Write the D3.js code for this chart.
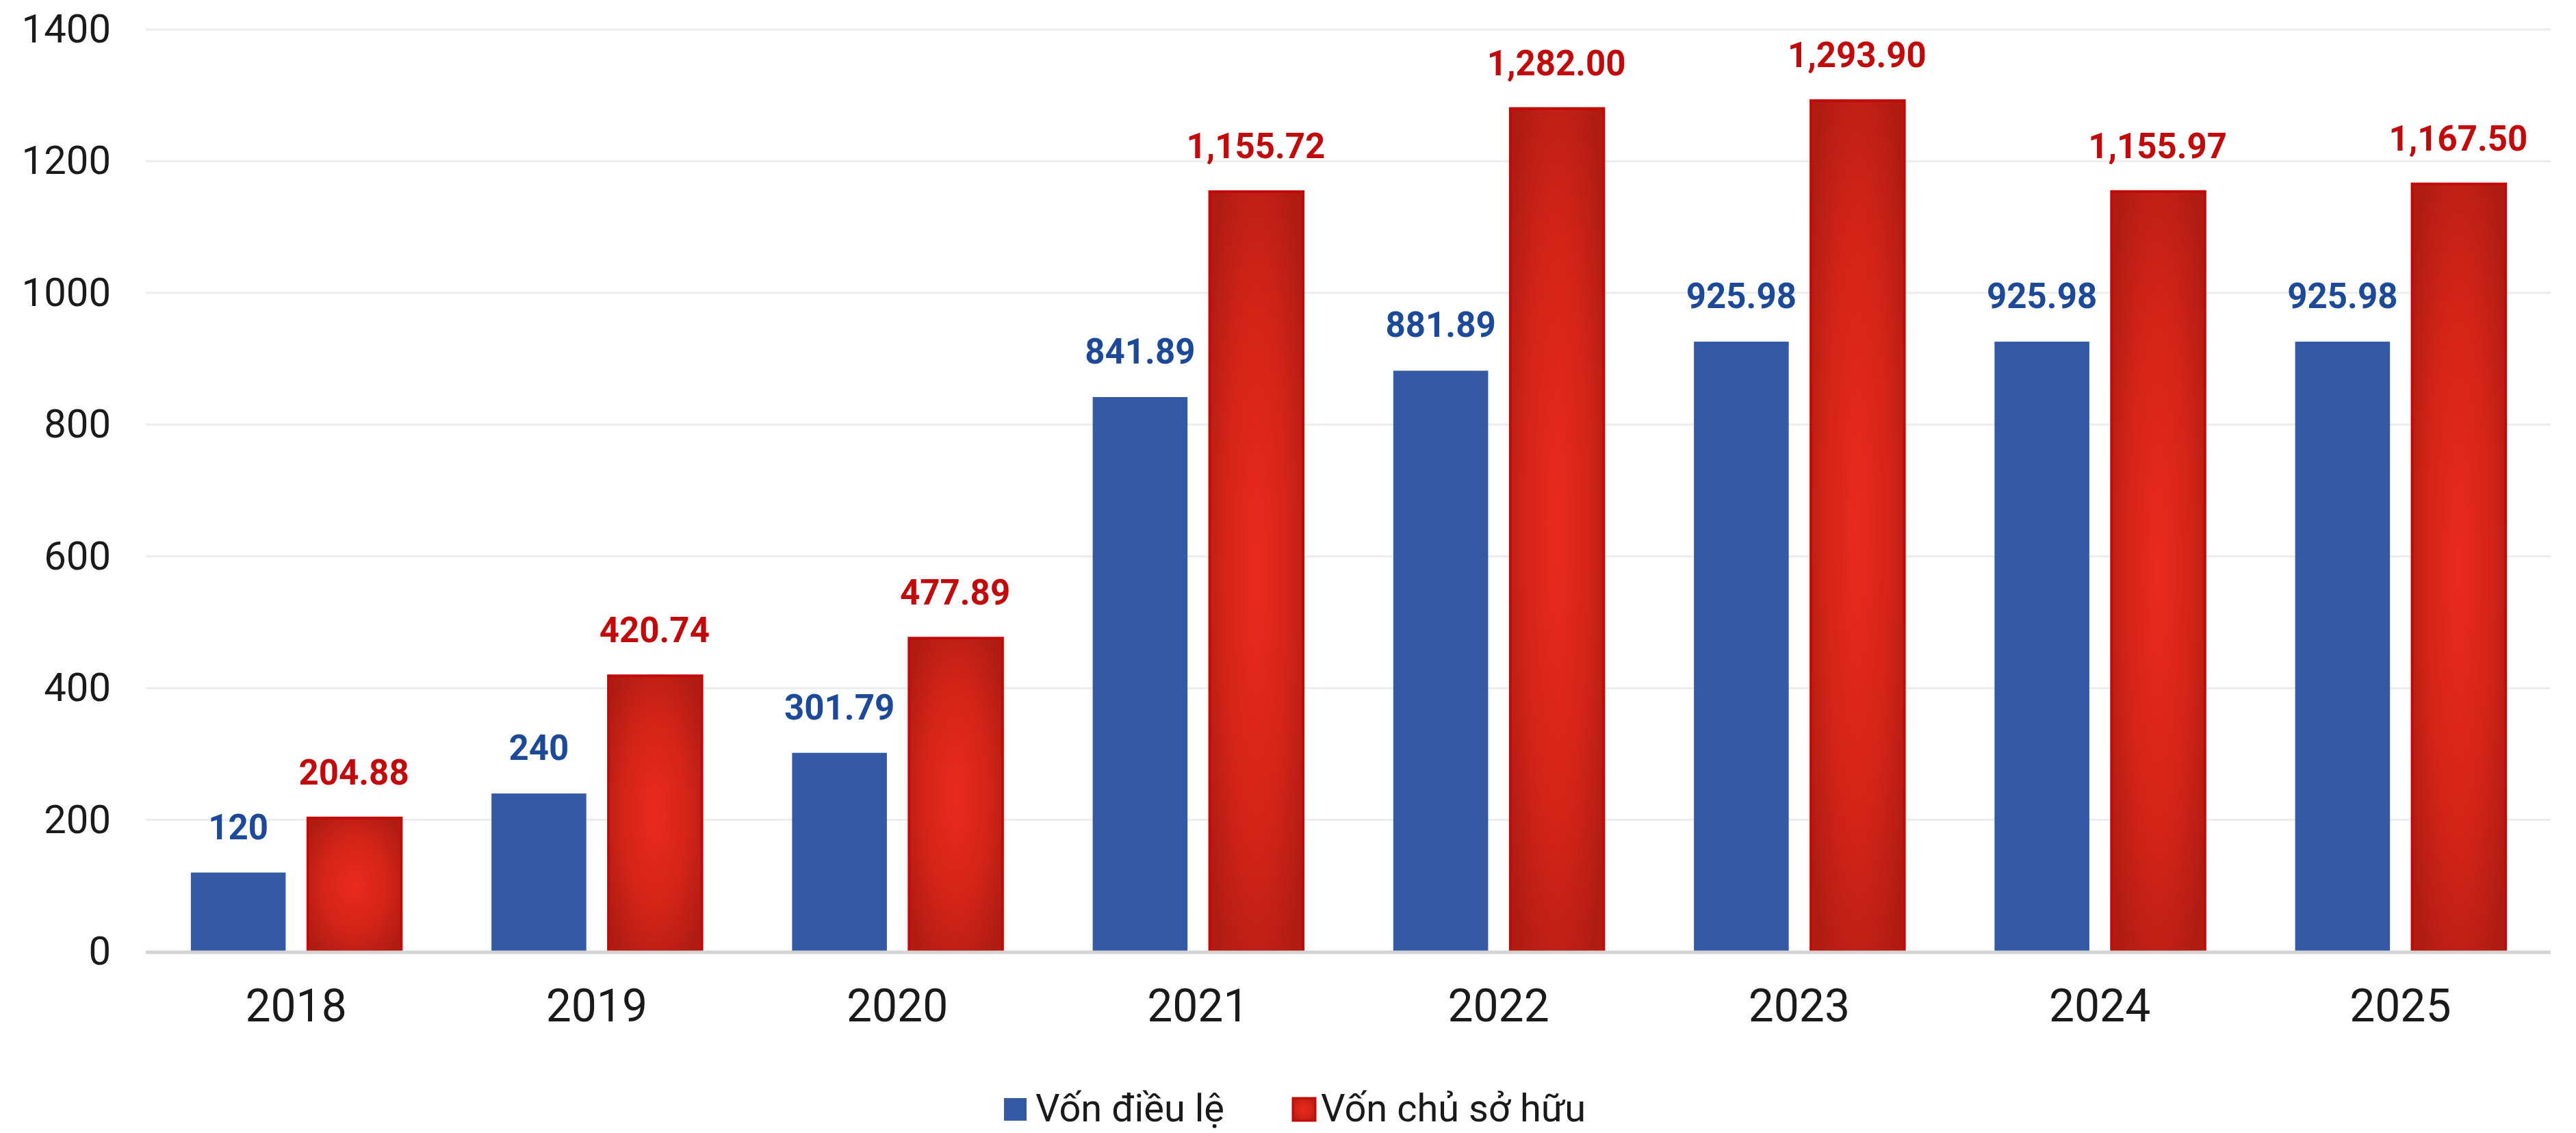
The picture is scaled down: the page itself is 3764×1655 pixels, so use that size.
<!DOCTYPE html>
<html>
<head>
<meta charset="utf-8">
<script src="https://cdn.jsdelivr.net/npm/d3@7"></script>
<style>
  body { margin: 0; background: #fff; }
  text { font-family: Roboto, "Noto Sans", sans-serif; }
</style>
</head>
<body>
<svg id="chart"></svg>
<script>
const years = ["2018", "2019", "2020", "2021", "2022", "2023", "2024", "2025"];
const seriesNames = ["Vốn điều lệ", "Vốn chủ sở hữu"];
const vonDieuLe = [120, 240, 301.79, 841.89, 881.89, 925.98, 925.98, 925.98];
const vonChuSoHuu = [204.88, 420.74, 477.89, 1155.72, 1282.0, 1293.9, 1155.97, 1167.5];
const yTicks = [0, 200, 400, 600, 800, 1000, 1200, 1400];

const W = 3764, H = 1655;
const svg = d3.select("#chart").attr("width", W).attr("height", H);

// plot area
const plotLeft = 213, plotRight = 3727, plotTop = 43, plotBottom = 1390;

const x = d3.scaleBand().domain(years).range([plotLeft, plotRight]).padding(0);
const xInner = d3
  .scaleBand()
  .domain(seriesNames)
  .range([0, x.bandwidth()])
  .paddingInner(0.18)
  .paddingOuter(0.39);
const y = d3.scaleLinear().domain([0, 1400]).range([plotBottom, plotTop]);

// red bar gradient
const defs = svg.append("defs");
const grad = defs
  .append("radialGradient")
  .attr("id", "redGrad")
  .attr("cx", "50%")
  .attr("cy", "50%")
  .attr("r", "62%");
grad.append("stop").attr("offset", "0%").attr("stop-color", "#ea2a1e");
grad.append("stop").attr("offset", "55%").attr("stop-color", "#d42418");
grad.append("stop").attr("offset", "100%").attr("stop-color", "#b01c12");

// gridlines
svg
  .append("g")
  .selectAll("line")
  .data(yTicks.filter((d) => d > 0))
  .join("line")
  .attr("x1", plotLeft)
  .attr("x2", plotRight)
  .attr("y1", (d) => y(d))
  .attr("y2", (d) => y(d))
  .attr("stroke", "#ececec")
  .attr("stroke-width", 3);

// y axis labels
const yAxis = d3
  .axisLeft(y)
  .tickValues(yTicks)
  .tickFormat(d3.format("d"))
  .tickSize(0)
  .tickPadding(0);
svg
  .append("g")
  .attr("transform", "translate(162,0)")
  .call(yAxis)
  .call((g) => g.select(".domain").remove())
  .selectAll("text")
  .attr("font-family", "Roboto")
  .attr("font-size", 58)
  .attr("fill", "#1a1a1a");

// bars
const rows = years.map((yr, i) => ({ year: yr, vals: [vonDieuLe[i], vonChuSoHuu[i]] }));
const groups = svg
  .append("g")
  .selectAll("g")
  .data(rows)
  .join("g")
  .attr("transform", (d) => `translate(${x(d.year)},0)`);

groups
  .append("rect")
  .attr("x", xInner(seriesNames[0]))
  .attr("width", xInner.bandwidth())
  .attr("y", (d) => y(d.vals[0]))
  .attr("height", (d) => y(0) - y(d.vals[0]))
  .attr("fill", "#3459a5");

groups
  .append("rect")
  .attr("x", xInner(seriesNames[1]) + 2)
  .attr("width", xInner.bandwidth() - 2)
  .attr("y", (d) => y(d.vals[1]) + 2)
  .attr("height", (d) => y(0) - y(d.vals[1]) - 2)
  .attr("fill", "url(#redGrad)")
  .attr("stroke", "#c20a08")
  .attr("stroke-width", 4);

// value labels
const fmtBlue = d3.format(",.2~f");
const fmtRed = d3.format(",.2f");
groups
  .append("text")
  .attr("x", xInner(seriesNames[0]) + xInner.bandwidth() / 2)
  .attr("y", (d) => y(d.vals[0]) - 49)
  .attr("text-anchor", "middle")
  .attr("font-size", 51)
  .attr("font-weight", "bold")
  .attr("fill", "#1c4a98")
  .text((d) => fmtBlue(d.vals[0]));

groups
  .append("text")
  .attr("x", xInner(seriesNames[1]) + xInner.bandwidth() / 2)
  .attr("y", (d) => y(d.vals[1]) - 47)
  .attr("text-anchor", "middle")
  .attr("font-size", 51)
  .attr("font-weight", "bold")
  .attr("fill", "#c00a0c")
  .text((d) => fmtRed(d.vals[1]));

// baseline
svg
  .append("line")
  .attr("x1", plotLeft)
  .attr("x2", plotRight)
  .attr("y1", y(0) + 1)
  .attr("y2", y(0) + 1)
  .attr("stroke", "#d3d3d3")
  .attr("stroke-width", 5);

// x axis labels
const xAxis = d3.axisBottom(x).tickSize(0).tickPadding(0);
svg
  .append("g")
  .attr("transform", "translate(0,1445)")
  .call(xAxis)
  .call((g) => g.select(".domain").remove())
  .selectAll("text")
  .attr("font-family", "Roboto")
  .attr("font-size", 66)
  .attr("fill", "#1a1a1a");

// legend
const legendItems = [
  { name: seriesNames[0], fill: "#3459a5", stroke: "none", sx: 1467, tx: 1513 },
  { name: seriesNames[1], fill: "url(#redGrad)", stroke: "#c20a08", sx: 1889, tx: 1930 },
];
const legend = svg.append("g").selectAll("g").data(legendItems).join("g");
legend
  .append("rect")
  .attr("x", (d) => d.sx)
  .attr("y", 1604)
  .attr("width", 33)
  .attr("height", 33)
  .attr("fill", (d) => d.fill)
  .attr("stroke", (d) => d.stroke)
  .attr("stroke-width", 3);
legend
  .append("text")
  .attr("x", (d) => d.tx)
  .attr("y", 1638)
  .attr("font-size", 56)
  .attr("fill", "#1a1a1a")
  .text((d) => d.name);
</script>
</body>
</html>
